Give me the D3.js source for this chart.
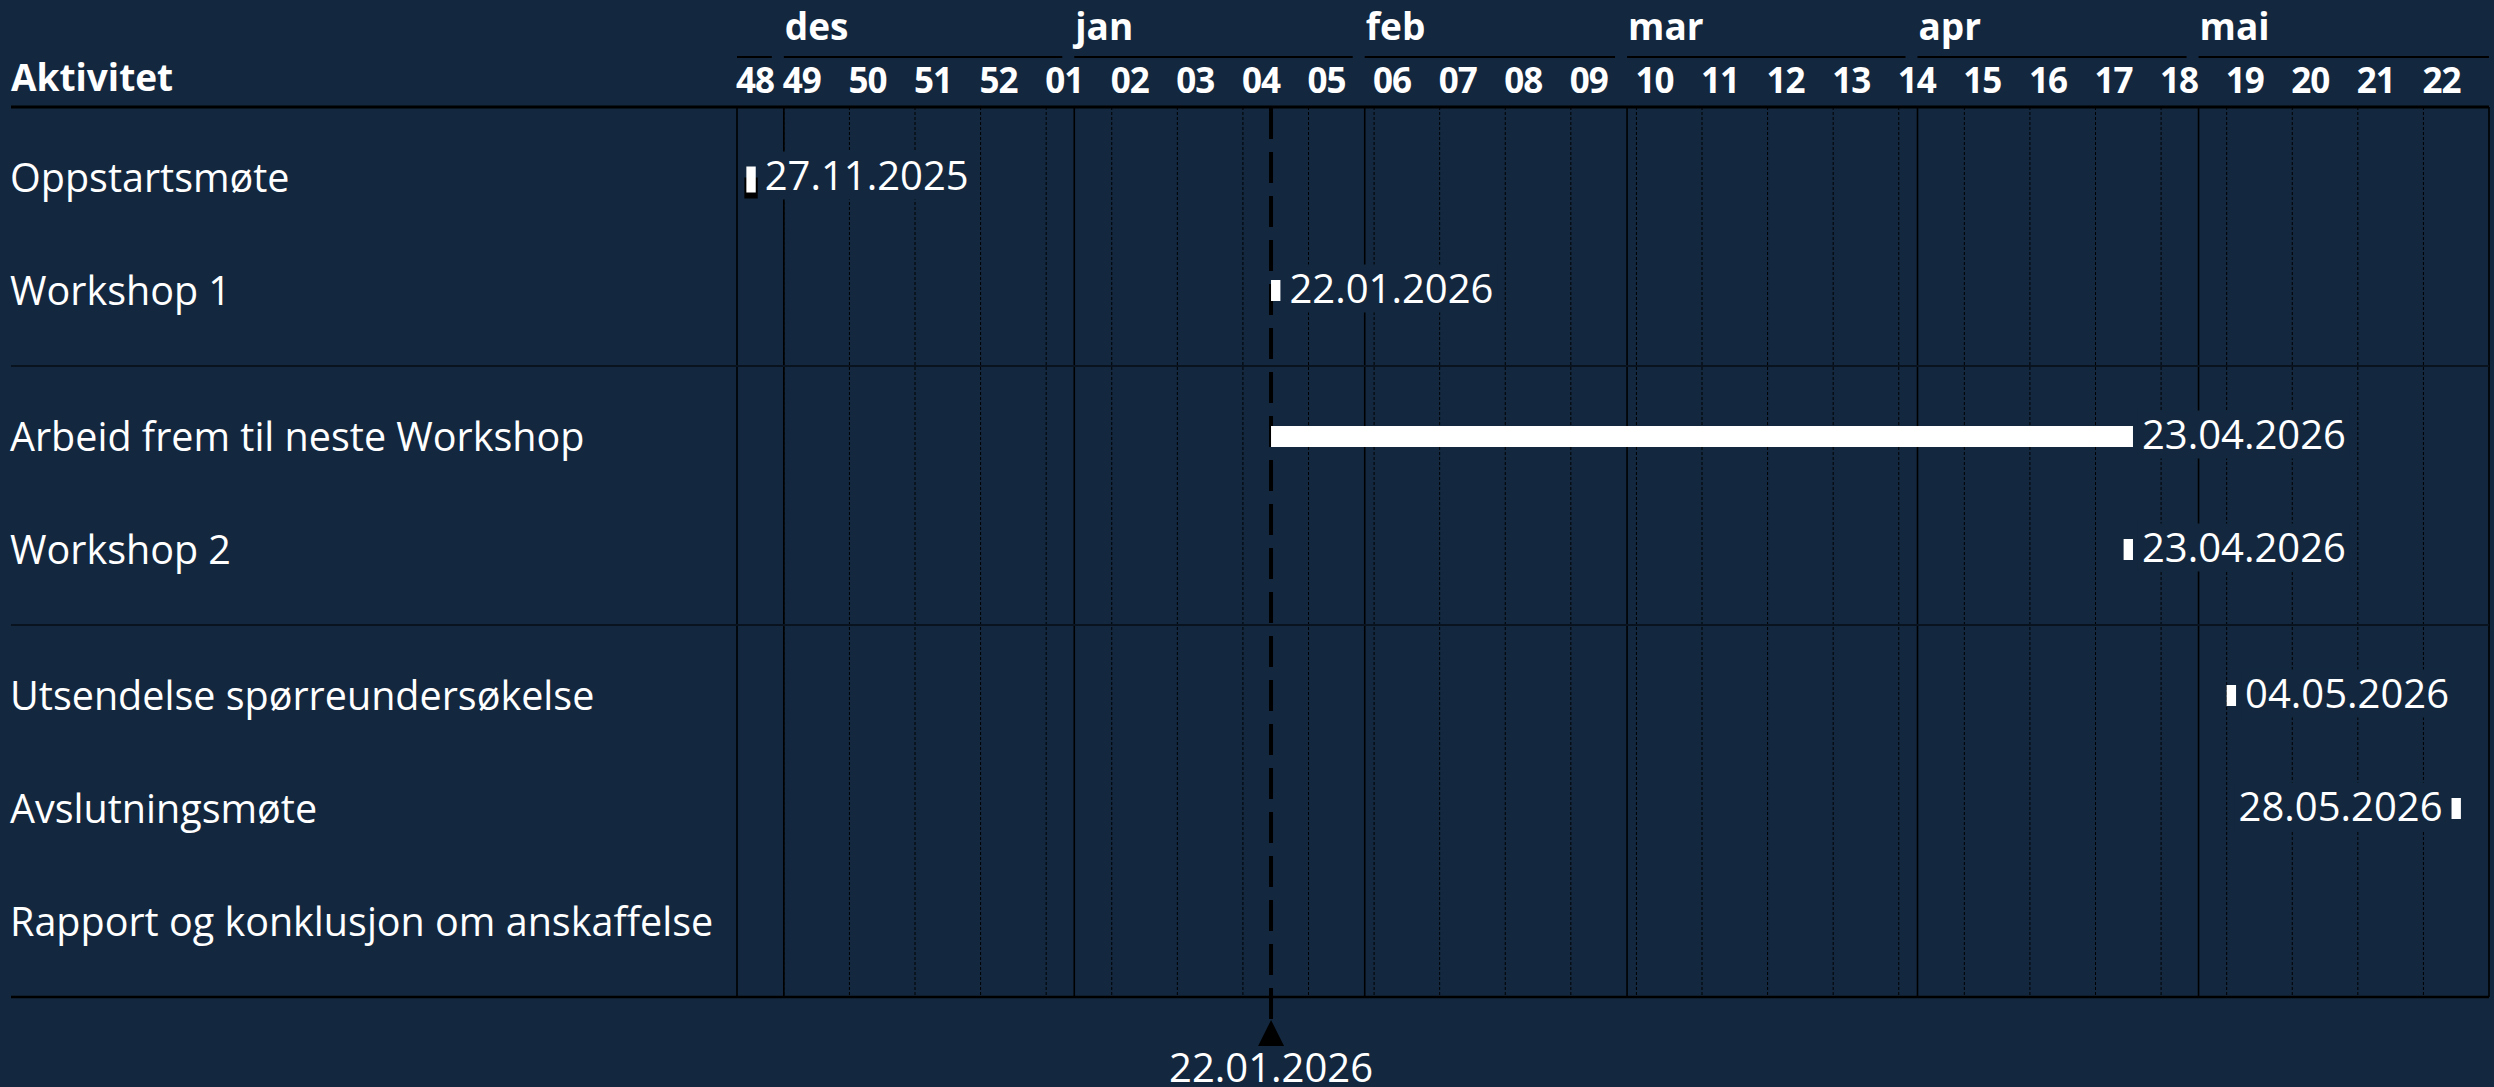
<!DOCTYPE html>
<html>
<head>
<meta charset="utf-8">
<script src="https://cdn.jsdelivr.net/npm/d3@7"></script>
<style>
  body { margin: 0; background: #13283f; }
  svg { display: block; font-family: "Open Sans", sans-serif; }
</style>
</head>
<body>
<div id="gantt"></div>
<script>
// activities, grouped in three blocks
const activities = [
  "Oppstartsmøte",
  "Workshop 1",
  "Arbeid frem til neste Workshop",
  "Workshop 2",
  "Utsendelse spørreundersøkelse",
  "Avslutningsmøte",
  "Rapport og konklusjon om anskaffelse"
];
const groups = [0, 0, 1, 1, 2, 2, 2];
const startDates = ["2025-11-27", "2026-01-22", "2026-01-22", "2026-04-23", "2026-05-04", "2026-05-28", null];
const endDates = ["2025-11-27", "2026-01-22", "2026-04-23", "2026-04-23", "2026-05-04", "2026-05-28", null];

// time axis
const axisStart = "2025-11-26";
const axisEnd = "2026-06-01";
const todayDate = "2026-01-22";
const monthLabels = ["", "des", "jan", "feb", "mar", "apr", "mai"];
const weekLabels = ["48", "49", "50", "51", "52", "01", "02", "03", "04", "05", "06", "07", "08", "09",
  "10", "11", "12", "13", "14", "15", "16", "17", "18", "19", "20", "21", "22"];

const parse = d3.timeParse("%Y-%m-%d");
const fmt = d3.timeFormat("%d.%m.%Y");

// set sizes
const width = 2494;
const height = 1087;
const textLeft = 11;
const chartLeft = 737;
const chartRight = 2489;
const headerY = 107;
const rowH = 113;
const padTop = 14;
const padBottom = 19;
const bg = "#13283f";

const x = d3.scaleTime()
  .domain([parse(axisStart), parse(axisEnd)])
  .range([chartLeft, chartRight]);
const [d0, d1] = x.domain();

// row centres and group borders
let yPos = headerY;
const rowCenters = [];
const groupEnds = [];
groups.forEach((g, i) => {
  if (i === 0 || g !== groups[i - 1]) yPos += padTop;
  rowCenters.push(yPos + rowH / 2);
  yPos += rowH;
  if (i === groups.length - 1 || g !== groups[i + 1]) {
    yPos += padBottom;
    groupEnds.push(yPos);
  }
});
const bottomY = groupEnds[groupEnds.length - 1];

const svg = d3.select("#gantt")
  .append("svg")
  .attr("width", width)
  .attr("height", height);

svg.append("rect").attr("width", width).attr("height", height).attr("fill", bg);

// week grid (dashed) on mondays
svg.selectAll(".wGrid")
  .data(d3.timeMonday.range(d0, d1))
  .join("line")
  .attr("x1", (d) => x(d))
  .attr("x2", (d) => x(d))
  .attr("y1", headerY)
  .attr("y2", bottomY)
  .attr("stroke", "#000")
  .attr("stroke-width", 1)
  .attr("stroke-dasharray", "3,2");

// month grid (solid) plus borders
const monthStarts = d3.timeMonth.range(d3.timeMonth.ceil(d0), d1);
svg.selectAll(".mGrid")
  .data([d0, ...monthStarts, d1])
  .join("line")
  .attr("x1", (d) => x(d))
  .attr("x2", (d) => x(d))
  .attr("y1", headerY)
  .attr("y2", bottomY)
  .attr("stroke", "#000")
  .attr("stroke-width", 1.6);

// horizontal lines
svg.append("line")
  .attr("x1", textLeft).attr("x2", chartRight)
  .attr("y1", headerY).attr("y2", headerY)
  .attr("stroke", "#000").attr("stroke-width", 3);

svg.selectAll(".sep")
  .data(groupEnds.slice(0, -1))
  .join("line")
  .attr("x1", textLeft).attr("x2", chartRight)
  .attr("y1", (d) => d).attr("y2", (d) => d)
  .attr("stroke", "#08131f").attr("stroke-width", 2);

svg.append("line")
  .attr("x1", textLeft).attr("x2", chartRight)
  .attr("y1", bottomY).attr("y2", bottomY)
  .attr("stroke", "#000").attr("stroke-width", 2.5);

// header: months
const months = d3.timeMonth.range(d3.timeMonth.floor(d0), d1).map((m, i) => ({
  start: m < d0 ? d0 : m,
  end: d3.timeMonth.offset(m, 1),
  label: monthLabels[i]
}));
svg.selectAll(".mLine")
  .data(months)
  .join("line")
  .attr("x1", (d) => x(d.start))
  .attr("x2", (d) => (d.end >= d1 ? x(d1) : x(d.end) - 12))
  .attr("y1", 57).attr("y2", 57)
  .attr("stroke", "#000").attr("stroke-width", 2.2);

svg.selectAll(".mText")
  .data(months)
  .join("text")
  .attr("x", (d) => x(d.start) + 1)
  .attr("y", 40)
  .attr("fill", "#fff")
  .style("font-size", "37px")
  .style("font-weight", "bold")
  .text((d) => d.label);

// header: weeks
const weeks = d3.timeMonday.range(d3.timeMonday.floor(d0), d1).map((w, i) => ({
  start: w < d0 ? d0 : w,
  label: weekLabels[i]
}));
svg.selectAll(".wText")
  .data(weeks)
  .join("text")
  .attr("x", (d) => x(d.start) - 1)
  .attr("y", 93)
  .attr("fill", "#fff")
  .style("font-size", "35px")
  .style("font-weight", "bold")
  .style("letter-spacing", "-1px")
  .text((d) => d.label);

svg.append("text")
  .attr("x", textLeft)
  .attr("y", 91)
  .attr("fill", "#fff")
  .style("font-size", "37px")
  .style("font-weight", "bold")
  .text("Aktivitet");

// activity names
svg.selectAll(".act")
  .data(activities)
  .join("text")
  .attr("x", textLeft - 1)
  .attr("y", (d, i) => rowCenters[i])
  .attr("dy", "0.36em")
  .attr("fill", "#fff")
  .style("font-size", "39.5px")
  .text((d) => d);

// today marker line
const today = parse(todayDate);
const tx = x(today);
svg.append("line")
  .attr("x1", tx).attr("x2", tx)
  .attr("y1", headerY + 1).attr("y2", bottomY + 24)
  .attr("stroke", "#000")
  .attr("stroke-width", 4)
  .attr("stroke-dasharray", "31,13");

svg.append("path")
  .attr("d", `M${tx},${bottomY + 23}L${tx - 13},${bottomY + 49}L${tx + 13},${bottomY + 49}Z`)
  .attr("fill", "#000");

svg.append("text")
  .attr("x", tx)
  .attr("y", bottomY + 85)
  .attr("text-anchor", "middle")
  .attr("fill", "#fff")
  .style("font-size", "40px")
  .text(fmt(today));

// bars
const tasks = activities
  .map((a, i) => ({
    name: a,
    row: i,
    start: startDates[i] ? parse(startDates[i]) : null,
    end: endDates[i] ? parse(endDates[i]) : null
  }))
  .filter((d) => d.start);

const barH = 21;
tasks.forEach((d) => {
  const bx = x(d.start);
  const bw = x(d3.timeDay.offset(d.end, 1)) - bx;
  const cy = rowCenters[d.row];
  if (d.start <= d3.timeDay.offset(d0, 1)) {
    // the marker at the left edge is drawn a bit taller with a dark shadow
    svg.append("rect")
      .attr("x", bx - 2).attr("y", cy)
      .attr("width", bw + 4).attr("height", barH)
      .attr("fill", "#000");
    svg.append("rect")
      .attr("x", bx).attr("y", cy - 11)
      .attr("width", bw).attr("height", 26)
      .attr("fill", "#fff");
  } else {
    svg.append("rect")
      .attr("x", bx).attr("y", cy - barH / 2)
      .attr("width", bw).attr("height", barH)
      .attr("fill", "#fff");
  }

  // date label with a box in background colour
  const g = svg.append("g");
  const box = g.append("rect").attr("fill", bg);
  const label = g.append("text")
    .attr("y", cy - 2)
    .attr("dy", "0.36em")
    .attr("fill", "#fff")
    .style("font-size", "40px")
    .text(fmt(d.end));
  const tw = label.node().getComputedTextLength();
  let lx = bx + bw + 9;
  if (lx + tw > chartRight) {
    lx = bx - 9 - tw;
  }
  label.attr("x", lx);
  box.attr("x", lx - 4).attr("y", cy - 26)
    .attr("width", tw + 8).attr("height", 48);
});
</script>
</body>
</html>
